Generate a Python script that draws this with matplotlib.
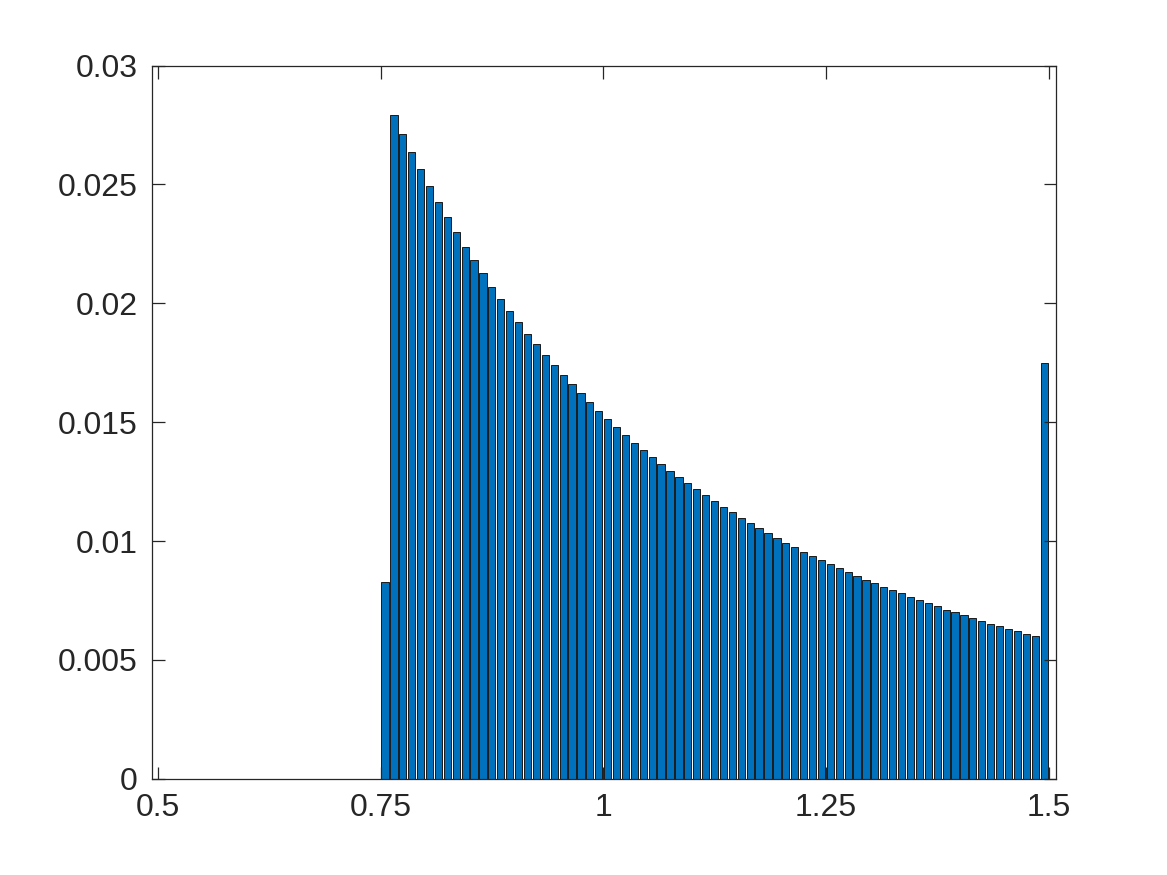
"""
 Histogram of the sampled values (probability normalised), MATLAB-like look.
"""

import numpy as np
import matplotlib
matplotlib.use('Agg')
import matplotlib.pyplot as plt

# Bin centres, 0.01 wide, from 0.5 to 1.5
bin_centers = np.arange(0.505, 1.5, 0.01)

# Probabilities: nothing below 0.75
zero_part = [0.0] * 25
prob_part = [
    0.00828, 0.02793, 0.02714, 0.02637, 0.02565, 0.02494, 0.02427, 0.02362,
    0.02299, 0.02238, 0.02181, 0.02126, 0.02070, 0.02018, 0.01968, 0.01920,
    0.01872, 0.01827, 0.01783, 0.01741, 0.01699, 0.01661, 0.01621, 0.01585,
    0.01548, 0.01515, 0.01480, 0.01446, 0.01414, 0.01383, 0.01354, 0.01324,
    0.01296, 0.01268, 0.01243, 0.01217, 0.01192, 0.01167, 0.01143, 0.01121,
    0.01097, 0.01076, 0.01053, 0.01032, 0.01011, 0.00992, 0.00973, 0.00955,
    0.00935, 0.00919, 0.00902, 0.00885, 0.00868, 0.00851, 0.00836, 0.00822,
    0.00807, 0.00792, 0.00780, 0.00765, 0.00750, 0.00738, 0.00725, 0.00712,
    0.00700, 0.00687, 0.00676, 0.00665, 0.00653, 0.00642, 0.00632, 0.00623,
    0.00611, 0.00602, 0.01750,
]
probability = zero_part + prob_part

x_ticks = [0.5, 0.75, 1, 1.25, 1.5]
x_tick_labels = ['0.5', '0.75', '1', '1.25', '1.5']
y_ticks = [0, 0.005, 0.01, 0.015, 0.02, 0.025, 0.03]
y_tick_labels = ['0', '0.005', '0.01', '0.015', '0.02', '0.025', '0.03']

plt.rcParams['font.family'] = ['Liberation Sans', 'DejaVu Sans']

dark = '#262626'

fig = plt.figure(figsize=(11.67, 8.75), dpi=100)
ax = fig.add_axes([0.13, 0.11, 0.775, 0.815])

ax.bar(bin_centers, probability, width=0.0081, color='#0072BD',
       edgecolor='#1a1a1a', linewidth=0.7)

ax.set_xlim(0.4931, 1.5085)
ax.set_ylim(0, 0.03)
ax.set_xticks(x_ticks)
ax.set_xticklabels(x_tick_labels)
ax.set_yticks(y_ticks)
ax.set_yticklabels(y_tick_labels)

ax.tick_params(direction='in', length=9, width=0.9, colors=dark,
               labelsize=23, top=True, right=True, pad=10)
for side in ax.spines.values():
    side.set_color(dark)
    side.set_linewidth(0.9)

plt.savefig('out.png', dpi=100)
